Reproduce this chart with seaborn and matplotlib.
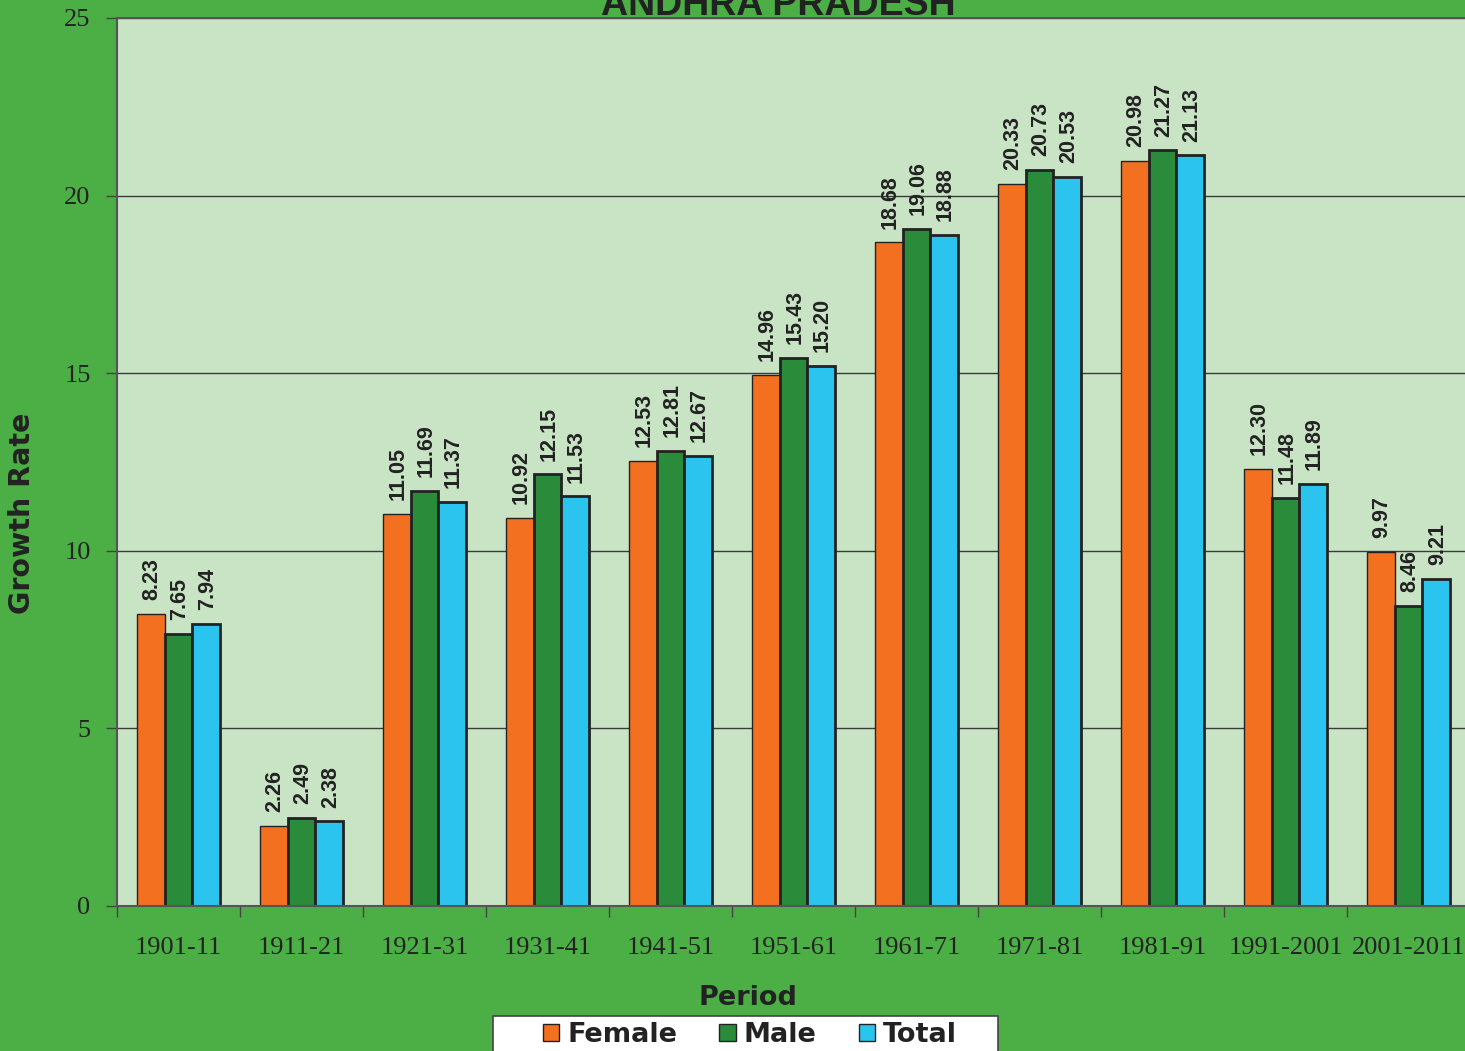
import numpy as np
import pandas as pd
import matplotlib
matplotlib.use("Agg")
import matplotlib.pyplot as plt
import seaborn as sns

## data
periods = ["1901-11", "1911-21", "1921-31", "1931-41", "1941-51", "1951-61",
           "1961-71", "1971-81", "1981-91", "1991-2001", "2001-2011"]
female = [8.23, 2.26, 11.05, 10.92, 12.53, 14.96, 18.68, 20.33, 20.98, 12.30, 9.97]
male = [7.65, 2.49, 11.69, 12.15, 12.81, 15.43, 19.06, 20.73, 21.27, 11.48, 8.46]
total = [7.94, 2.38, 11.37, 11.53, 12.67, 15.20, 18.88, 20.53, 21.13, 11.89, 9.21]
series = ["Female", "Male", "Total"]
colors = ["#F37021", "#2A8C3A", "#2BC4EE"]

df = pd.DataFrame({"Period": periods * 3,
                   "Rate": female + male + total,
                   "Sex": ["Female"] * 11 + ["Male"] * 11 + ["Total"] * 11})

sns.set_theme(style="ticks")
plt.rcParams["font.family"] = ["DejaVu Sans"]

fig_bg = "#4CAF45"
ax_bg = "#C9E4C5"
dark = "#222222"

fig = plt.figure(figsize=(14.65, 10.51), dpi=100, facecolor=fig_bg)
ax = fig.add_axes([117 / 1465, 1 - 906 / 1051, 1353 / 1465, 888 / 1051])
ax.set_facecolor(ax_bg)

sns.barplot(data=df, x="Period", y="Rate", hue="Sex", hue_order=series,
            palette=colors, width=0.675, edgecolor=dark, linewidth=2,
            saturation=1, legend=False, ax=ax)

# thinner outline on the orange bars, like the original
for patch in ax.containers[0]:
    patch.set_linewidth(1.0)

# value labels, rotated
for cont in ax.containers:
    for patch in cont:
        h = patch.get_height()
        ax.annotate("%.2f" % h, (patch.get_x() + patch.get_width() / 2, h),
                    xytext=(1, 10), textcoords="offset points",
                    rotation=90, ha="center", va="bottom",
                    fontsize=15.5, fontweight="bold", family="Liberation Sans",
                    color=dark)

ax.set_ylim(0, 25)
ax.set_xlim(-0.5, 10.5)
ax.set_yticks([0, 5, 10, 15, 20, 25])
ax.yaxis.grid(True, color="#3a3a3a", linewidth=1.0)
ax.set_axisbelow(True)

# category separators as minor ticks, labels on major ticks without marks
ax.set_xticks(np.arange(-0.5, 11, 1), minor=True)
ax.tick_params(axis="x", which="major", length=0, pad=22)
ax.tick_params(axis="x", which="minor", length=8, width=1, color="#444444", direction="out")
ax.tick_params(axis="y", length=8, width=1, color="#444444", pad=11)
for lab in ax.get_xticklabels() + ax.get_yticklabels():
    lab.set_family("Liberation Serif")
    lab.set_fontsize(19)
    lab.set_color(dark)

for s in ax.spines.values():
    s.set_color("#555555")
    s.set_linewidth(1.5)

ax.set_xlabel("")
ax.set_ylabel("")

fig.text(778 / 1465, 1 - 15 / 1051, "ANDHRA PRADESH", ha="center", va="baseline",
         fontsize=27, fontweight="bold", family="Liberation Sans", color=dark)
fig.text(22 / 1465, 1 - 513 / 1051, "Growth Rate", rotation=90, ha="center", va="center",
         fontsize=20.5, fontweight="bold", color=dark)
fig.text(748 / 1465, 1 - 998 / 1051, "Period", ha="center", va="center",
         fontsize=19.5, fontweight="bold", color=dark)

# white legend box running off the bottom edge
box = plt.Rectangle((493 / 1465, -0.02), 505 / 1465, 0.02 + 35 / 1051,
                    transform=fig.transFigure, facecolor="white",
                    edgecolor="#444444", linewidth=1.2)
fig.add_artist(box)

handles = [plt.Rectangle((0, 0), 1, 1, facecolor=c, edgecolor=dark, linewidth=1) for c in colors]
leg = fig.legend(handles, series, loc="center", ncol=3,
                 bbox_to_anchor=(750 / 1465, 1 - 1035 / 1051),
                 frameon=False,
                 prop={"weight": "bold", "size": 19.5}, handlelength=0.6, handleheight=0.6,
                 handletextpad=0.3, columnspacing=1.55, borderpad=0,
                 borderaxespad=0)
for t in leg.get_texts():
    t.set_color(dark)

fig.savefig("out.png", dpi=100, facecolor=fig_bg)
